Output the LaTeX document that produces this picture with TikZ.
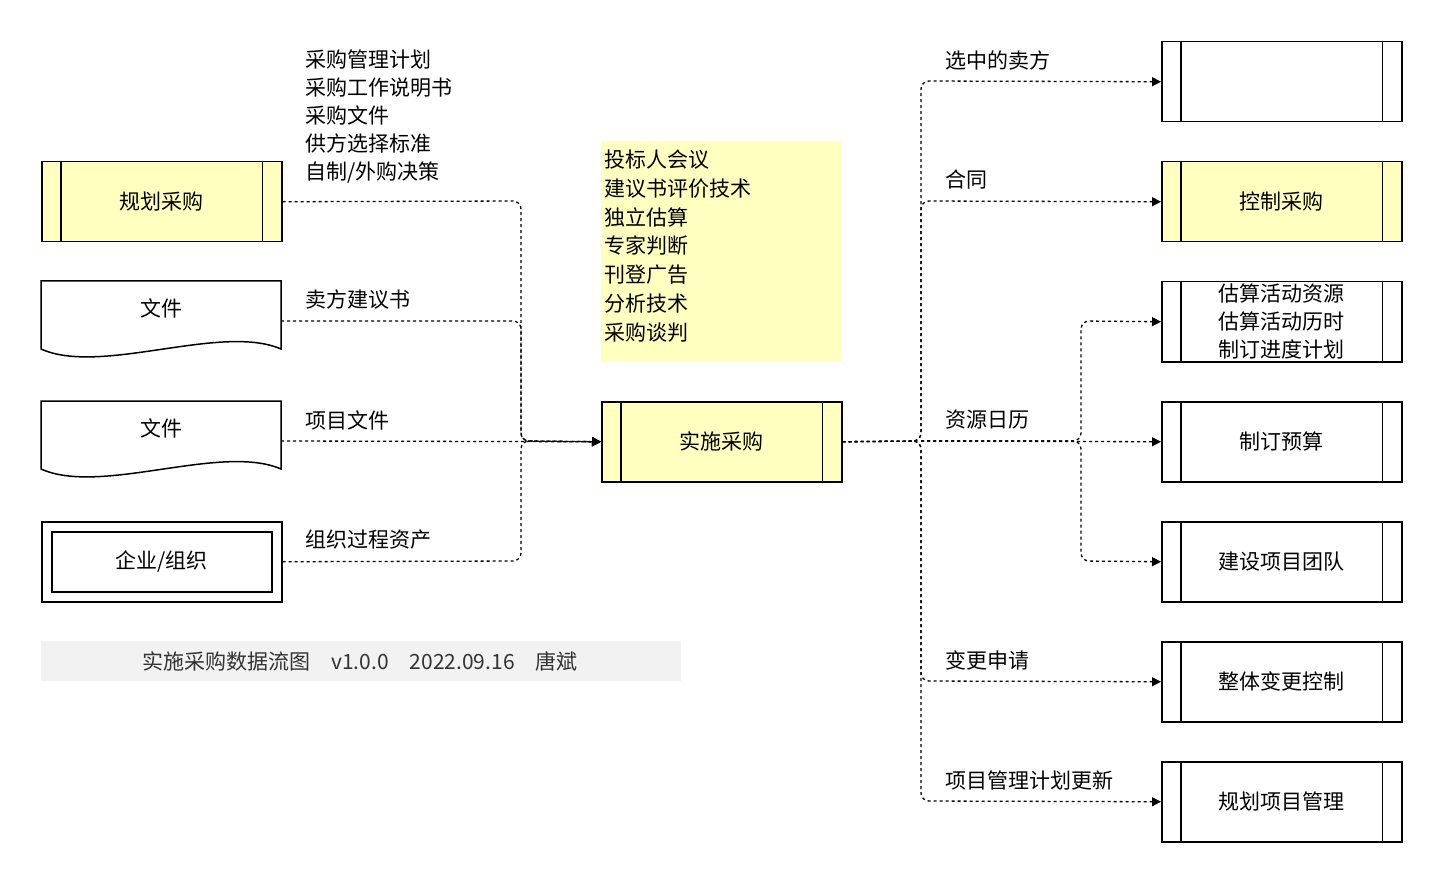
\documentclass[tikz,border=0pt]{standalone}
\usepackage{fontspec}
\setmainfont{Noto Sans CJK SC}
\usetikzlibrary{arrows.meta}
\definecolor{yel}{HTML}{FFFFC0}
\definecolor{foot}{HTML}{F2F2F2}
\begin{document}
\begin{tikzpicture}[x=1pt,y=-1pt,
  txt/.style={font=\fontsize{21}{24}\selectfont,inner sep=0pt},
  proc/.style={draw,line width=1.5pt,minimum width=240pt,minimum height=80pt,inner sep=0pt,font=\fontsize{21}{24}\selectfont},
  flow/.style={line width=1.3pt,dash pattern=on 3pt off 3pt,rounded corners=8pt,-{Triangle[length=9pt,width=9pt]}},
  flown/.style={line width=1.3pt,dash pattern=on 3pt off 3pt,rounded corners=8pt}]
\useasboundingbox (0,0) rectangle (1442,882);
\newcommand{\pbox}[4]{% name, x, y, fill
  \node[proc,fill=#4,anchor=north west] (#1) at (#2,#3) {};
  \draw[line width=1.5pt] ([xshift=20pt]#1.north west) -- ([xshift=20pt]#1.south west);
  \draw[line width=1.5pt] ([xshift=-20pt]#1.north east) -- ([xshift=-20pt]#1.south east);}
% left
\pbox{gh}{41}{161}{yel}
\node[txt] at (gh) {规划采购};
\foreach \n/\y in {d1/281,d2/401}{
  \draw[line width=1.5pt,fill=white] (41,\y) -- (281,\y) -- (281,\y+68) .. controls (221,\y+42) and (101,\y+95) .. (41,\y+68) -- cycle;
  \coordinate (\n) at (281,\y+40);
  \node[txt] at (161,\y+27) {文件};}
\node[proc,anchor=north west] (org) at (41,521) {};
\node[draw,line width=1.5pt,minimum width=220pt,minimum height=60pt,txt] at (org) {企业/组织};
% notes
\node[fill=yel,minimum width=240pt,minimum height=220pt,anchor=north west] (note) at (601,141) {};
\node[txt,anchor=north west,align=left,font=\fontsize{21}{28.7}\selectfont] at (604,150) {投标人会议\\建议书评价技术\\独立估算\\专家判断\\刊登广告\\分析技术\\采购谈判};
\pbox{ss}{601}{401}{yel}
\node[txt] at (ss) {实施采购};
\node[txt,anchor=north west,align=left,font=\fontsize{21}{28}\selectfont] at (305,50) {采购管理计划\\采购工作说明书\\采购文件\\供方选择标准\\自制/外购决策};
\node[txt,anchor=west] at (305,300) {卖方建议书};
\node[txt,anchor=west] at (305,420) {项目文件};
\node[txt,anchor=west] at (305,540) {组织过程资产};
% footer
\node[fill=foot,minimum width=640pt,minimum height=40pt,anchor=north west] (ft) at (41,641) {};
\node[txt,text=black!80] at (360,661) {实施采购数据流图\quad v1.0.0\quad 2022.09.16\quad 唐斌};
% right
\pbox{r1}{1161}{41}{white}
\pbox{r2}{1161}{161}{yel}\node[txt] at (r2) {控制采购};
\pbox{r3}{1161}{281}{white}\node[txt,align=center,font=\fontsize{21}{28}\selectfont] at (r3) {估算活动资源\\估算活动历时\\制订进度计划};
\pbox{r4}{1161}{401}{white}\node[txt] at (r4) {制订预算};
\pbox{r5}{1161}{521}{white}\node[txt] at (r5) {建设项目团队};
\pbox{r6}{1161}{641}{white}\node[txt] at (r6) {整体变更控制};
\pbox{r7}{1161}{761}{white}\node[txt] at (r7) {规划项目管理};
\node[txt,anchor=west] at (945,60) {选中的卖方};
\node[txt,anchor=west] at (945,180) {合同};
\node[txt,anchor=west] at (945,420) {资源日历};
\node[txt,anchor=west] at (945,660) {变更申请};
\node[txt,anchor=west] at (945,780) {项目管理计划更新};
% connectors left
\draw[flow] (gh.east) -- (521,201) -- (521,441) -- (ss.west);
\draw[flow] (d1) -- (521,321) -- (521,441) -- (ss.west);
\draw[flow] (d2) -- (ss.west);
\draw[flow] (org.east) -- (521,561) -- (521,441) -- (ss.west);
% connectors right
\coordinate (j) at (921,441);
\draw[flow] (ss.east) -- (j) -- (921,81) -- (r1.west);
\draw[flow] (ss.east) -- (j) -- (921,201) -- (r2.west);
\draw[flow] (ss.east) -- (j) -- (921,681) -- (r6.west);
\draw[flow] (ss.east) -- (j) -- (921,801) -- (r7.west);
\draw[flow] (j) -- (1081,441) -- (1081,321) -- (r3.west);
\draw[flow] (j) -- (r4.west);
\draw[flow] (j) -- (1081,441) -- (1081,561) -- (r5.west);
\end{tikzpicture}
\end{document}
